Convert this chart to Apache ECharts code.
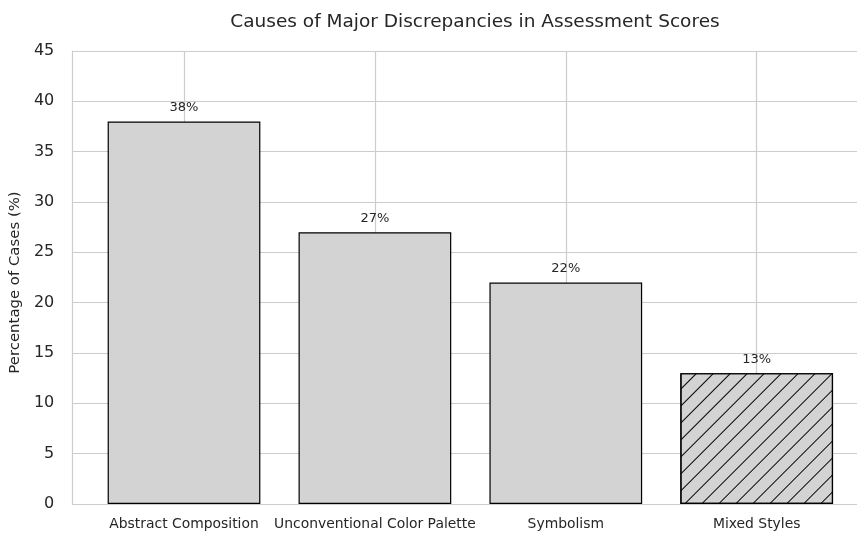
<!DOCTYPE html>
<html>
<head>
<meta charset="utf-8">
<script src="https://cdn.jsdelivr.net/npm/echarts@6/dist/echarts.min.js"></script>
<style>
  html, body { margin: 0; padding: 0; background: #ffffff; }
  #chart { width: 857px; height: 533px; }
</style>
</head>
<body>
<div id="chart"></div>
<script>
// Chart data
const categories = ['Abstract Composition', 'Unconventional Color Palette', 'Symbolism', 'Mixed Styles'];
const percentages = [38, 27, 22, 13];
const hatched = [false, false, false, true];
const yTicks = [0, 5, 10, 15, 20, 25, 30, 35, 40, 45];

const FONT = 'DejaVu Sans';
const GRID_COLOR = '#cccccc';
const TEXT_COLOR = '#262626';

const chart = echarts.init(document.getElementById('chart'), null, { renderer: 'canvas' });

const barData = percentages.map((v, i) => ({
  value: v,
  itemStyle: hatched[i] ? {
    decal: {
      symbol: 'rect',
      symbolSize: 1,
      color: '#000000',
      dashArrayX: [1, 0],
      dashArrayY: [1, 11],
      rotation: -Math.PI / 4
    }
  } : {}
}));

const option = {
  backgroundColor: '#ffffff',
  animation: false,
  title: {
    text: 'Causes of Major Discrepancies in Assessment Scores',
    left: 470,
    textAlign: 'center',
    top: 8,
    textStyle: { fontFamily: FONT, fontSize: 18.5, fontWeight: 'normal', color: TEXT_COLOR }
  },
  grid: [
    // frame: left spine, bottom spine, horizontal grid lines
    { left: 72, right: 0, top: 51, bottom: 29 },
    // bars, category labels, vertical grid lines at category centres
    { left: 184, right: 100.3, top: 51, bottom: 29 }
  ],
  xAxis: [
    {
      gridIndex: 0, type: 'value', min: 0, max: 1,
      axisLine: { show: true, lineStyle: { color: GRID_COLOR, width: 1.2 } },
      axisTick: { show: false }, axisLabel: { show: false }, splitLine: { show: false }
    },
    {
      gridIndex: 1, type: 'category', data: categories, boundaryGap: false,
      axisLine: { show: false }, axisTick: { show: false },
      axisLabel: { fontFamily: FONT, fontSize: 13.9, color: TEXT_COLOR, margin: 13, interval: 0 },
      splitLine: { show: true, lineStyle: { color: GRID_COLOR, width: 1.2 } }
    }
  ],
  yAxis: [
    {
      gridIndex: 0, type: 'value', min: 0, max: 45, interval: 5,
      name: 'Percentage of Cases (%)', nameLocation: 'middle', nameGap: 42,
      nameTextStyle: { fontFamily: FONT, fontSize: 14.9, color: TEXT_COLOR, padding: [0, 10, 0, 0] },
      axisLine: { show: true, lineStyle: { color: GRID_COLOR, width: 1.2 } },
      axisTick: { show: false },
      axisLabel: {
        fontFamily: FONT, fontSize: 16, color: TEXT_COLOR, margin: 18,
        formatter: v => (yTicks.includes(v) ? String(v) : '')
      },
      splitLine: { show: true, lineStyle: { color: GRID_COLOR, width: 1.2 } }
    },
    {
      gridIndex: 1, type: 'value', min: 0, max: 45, interval: 5,
      axisLine: { show: false }, axisTick: { show: false },
      axisLabel: { show: false }, splitLine: { show: false }
    }
  ],
  series: [
    {
      type: 'bar',
      xAxisIndex: 1, yAxisIndex: 1,
      data: barData,
      barWidth: '80%',
      clip: false,
      itemStyle: { color: '#d3d3d3', borderColor: '#000000', borderWidth: 1.2 },
      label: {
        show: true, position: 'top', distance: 7,
        fontFamily: FONT, fontSize: 13, color: TEXT_COLOR,
        formatter: p => p.value + '%'
      }
    }
  ]
};

chart.setOption(option);
</script>
</body>
</html>
